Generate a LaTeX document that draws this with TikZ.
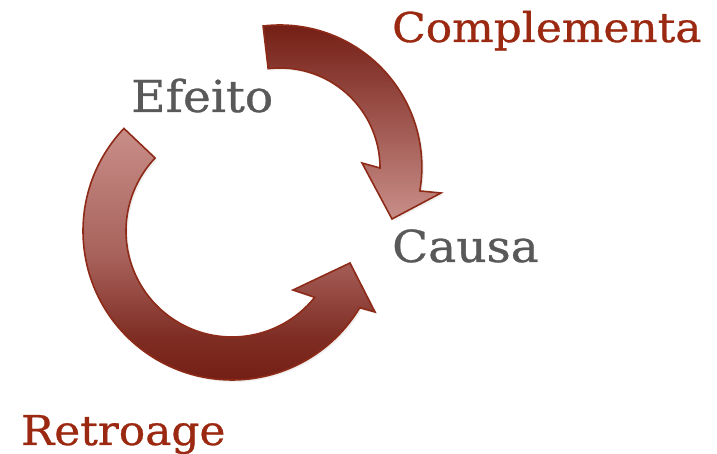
\documentclass[tikz,border=0pt]{standalone}
\usepackage{fontspec}
\setmainfont{DejaVu Serif}
\newfontfamily\fonterotulo{DejaVu Serif}[FakeStretch=1.07, FakeBold=0.7]
\usepackage{tikz}
\usetikzlibrary{shadows}
\definecolor{setaescura}{HTML}{721C12}
\definecolor{setaclara}{HTML}{C98E89}
\definecolor{setaborda}{HTML}{8E2A18}
\definecolor{textocinza}{HTML}{595959}
\definecolor{textovermelho}{HTML}{9B2810}
\pgfdeclareverticalshading{sombrabaixo}{100bp}{color(0bp)=(setaescura); color(25bp)=(setaescura);
    color(35bp)=(setaescura!85!setaclara); color(50bp)=(setaescura!40!setaclara);
    color(75bp)=(setaclara); color(100bp)=(setaclara)}
\tikzset{
    seta/.style={draw=setaborda, line width=1.6pt, line join=miter,
        drop shadow={opacity=0.12, shadow xshift=2pt, shadow yshift=-2pt}},
    rotulo/.style={anchor=base west, inner sep=0pt, font=\fonterotulo\fontsize{41}{41}\selectfont},
    rotulomaior/.style={rotulo, font=\fonterotulo\fontsize{44}{44}\selectfont},
}

\begin{document}
\begin{tikzpicture}[x=1pt, y=1pt]
        \useasboundingbox (0,0) rectangle (717,454);
        \coordinate (CentroCima) at (280,286);
        \coordinate (CentroBaixo) at (232,223);
        \begin{scope}[shift={(CentroCima)}]
            \draw[seta, top color=setaescura, bottom color=setaclara]
                (96.8:143) arc[start angle=96.8, end angle=-9.7, radius=142]
                -- (161,-25) -- (112,-51) -- (82,5) -- (0:100)
                arc[start angle=0, end angle=96.8, radius=100] -- cycle;
        \end{scope}
        \begin{scope}[shift={(CentroBaixo)}]
            \draw[seta, shading=sombrabaixo]
                (136.5:149) arc[start angle=136.5, end angle=329, radius=149]
                -- (143,-81) -- (118,-32) -- (61,-59) -- (321.3:106)
                arc[start angle=321.3, end angle=136.5, radius=106] -- cycle;
        \end{scope}
        \node[rotulo, text=textovermelho] (complementa) at (392,412) {Complementa};
        \node[rotulomaior, text=textocinza] (efeito) at (131,342) {Efeito};
        \node[rotulomaior, text=textocinza] (causa) at (392,192) {Causa};
        \node[rotulo, text=textovermelho] (retroage) at (21,9) {Retroage};
    \end{tikzpicture}
\end{document}
